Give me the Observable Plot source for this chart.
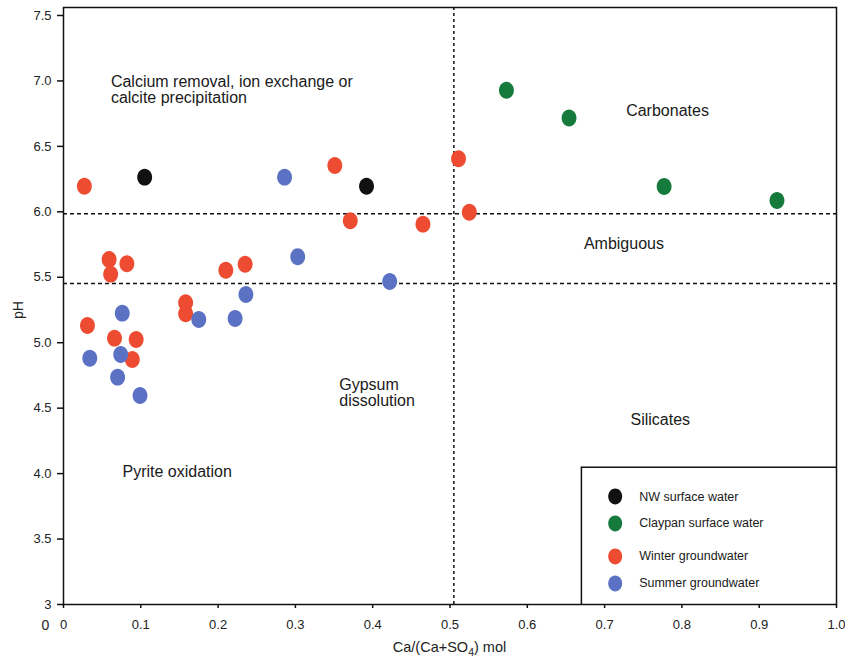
<!DOCTYPE html>
<html><head><meta charset="utf-8">
<script src="https://cdn.jsdelivr.net/npm/d3@7"></script>
<script src="https://cdn.jsdelivr.net/npm/@observablehq/plot@0.6"></script>
<style>body{margin:0;background:#fff}</style>
</head><body><div id="chart"></div>
<script>
// ---- data ----
const seriesNames = ["NW surface water", "Claypan surface water", "Winter groundwater", "Summer groundwater"];
const seriesColors = ["#111111", "#177a3d", "#ee4c32", "#5b72c4"];

const nwX = [0.105, 0.392];
const nwY = [6.265, 6.196];
const claypanX = [0.573, 0.654, 0.777, 0.923];
const claypanY = [6.929, 6.716, 6.194, 6.087];
const winterX = [0.027, 0.351, 0.511, 0.371, 0.465, 0.525, 0.059, 0.061, 0.082, 0.210, 0.235, 0.158, 0.158, 0.031, 0.066, 0.094, 0.089];
const winterY = [6.196, 6.354, 6.405, 5.932, 5.906, 5.997, 5.636, 5.524, 5.603, 5.554, 5.600, 5.305, 5.221, 5.132, 5.035, 5.025, 4.872];
const summerX = [0.286, 0.303, 0.422, 0.236, 0.076, 0.175, 0.222, 0.034, 0.074, 0.070, 0.099];
const summerY = [6.265, 5.657, 5.468, 5.369, 5.226, 5.178, 5.185, 4.882, 4.910, 4.737, 4.597];

const xTicks = [0, 0.1, 0.2, 0.3, 0.4, 0.5, 0.6, 0.7, 0.8, 0.9, 1.0];
const xTickLabels = ["0", "0.1", "0.2", "0.3", "0.4", "0.5", "0.6", "0.7", "0.8", "0.9", "1.0"];
const yTicks = [3, 3.5, 4, 4.5, 5, 5.5, 6, 6.5, 7, 7.5];
const yTickLabels = ["3", "3.5", "4.0", "4.5", "5.0", "5.5", "6.0", "6.5", "7.0", "7.5"];

// threshold lines
const pHThresholds = [5.985, 5.453];
const ratioThreshold = [0.505];

// region labels (anchored in data units)
const regionText = ["Calcium removal, ion exchange or\ncalcite precipitation", "Carbonates", "Ambiguous", "Silicates", "Gypsum\ndissolution", "Pyrite oxidation"];
const regionX = [0.0613, 0.7814, 0.725, 0.772, 0.3567, 0.0763];
const regionY = [6.933, 6.769, 5.756, 4.414, 4.62, 4.011];
const regionAnchor = ["start", "middle", "middle", "middle", "start", "start"];

// legend box (data units)
const legendLeft = 0.670, legendTop = 4.049;
const legendDotX = 0.7137, legendTextX = 0.7447;
const legendY = [3.825, 3.619, 3.367, 3.161];

// ---- build tables ----
const groups = [[nwX, nwY], [claypanX, claypanY], [winterX, winterY], [summerX, summerY]];
const points = [];
groups.forEach(([xs, ys], g) => xs.forEach((x, i) => points.push({series: seriesNames[g], x, y: ys[i]})));
const regions = regionText.map((t, i) => ({t, x: regionX[i], y: regionY[i], a: regionAnchor[i]}));
const legendRows = seriesNames.map((s, i) => ({s, y: legendY[i]}));

// elliptical marker (slightly taller than wide)
const ellipse = {
  draw(ctx, size) {
    const r = Math.sqrt(size / Math.PI), rx = r * 0.93, ry = r * 1.06, k = 0.5523;
    ctx.moveTo(rx, 0);
    ctx.bezierCurveTo(rx, ry * k, rx * k, ry, 0, ry);
    ctx.bezierCurveTo(-rx * k, ry, -rx, ry * k, -rx, 0);
    ctx.bezierCurveTo(-rx, -ry * k, -rx * k, -ry, 0, -ry);
    ctx.bezierCurveTo(rx * k, -ry, rx, -ry * k, rx, 0);
    ctx.closePath();
  }
};

const font = "'Liberation Sans', Arial, Helvetica, sans-serif";
const regionMarks = ["start", "middle"].map(a =>
  Plot.text(regions.filter(d => d.a === a), {x: "x", y: "y", text: "t", textAnchor: a, fontSize: 16, lineHeight: 1.02, fill: "#1a1a1a"}));

const plot = Plot.plot({
  width: 845, height: 657,
  marginLeft: 63, marginRight: 9, marginTop: 7, marginBottom: 53,
  x: {domain: [0, 1]},
  y: {domain: [3, 7.561]},
  color: {domain: seriesNames, range: seriesColors},
  style: {fontFamily: font, fontSize: "13px", color: "#222", background: "#fff"},
  marks: [
    Plot.ruleY(pHThresholds, {stroke: "#111", strokeWidth: 1.5, strokeDasharray: "4,3"}),
    Plot.ruleX(ratioThreshold, {stroke: "#111", strokeWidth: 1.5, strokeDasharray: "3,3"}),
    Plot.axisY(yTicks, {tickSize: 6, tickPadding: 6, tickFormat: d => yTickLabels[yTicks.indexOf(d)], label: null, fontSize: 13, fill: "#222", stroke: "#111", strokeWidth: 1.5}),
    Plot.axisX(xTicks, {tickSize: 4, tickPadding: 11, tickFormat: d => xTickLabels[xTicks.indexOf(d)], label: null, fontSize: 13, fill: "#222", stroke: "#111", strokeWidth: 1.5}),
    Plot.text(["0"], {x: 0, y: 3, dx: -18, dy: 21, fontSize: 14, fill: "#222"}),
    Plot.text(["pH"], {frameAnchor: "left", dx: -45, dy: 13, rotate: -90, fontSize: 14, fill: "#222"}),
    ...regionMarks,
    Plot.dot(points.filter(d => d.series === seriesNames[2]), {x: "x", y: "y", fill: "series", r: 8, symbol: ellipse}),
    Plot.dot(points.filter(d => d.series !== seriesNames[2]), {x: "x", y: "y", fill: "series", r: 8, symbol: ellipse}),
    // legend box
    Plot.ruleX([legendLeft], {y1: 3, y2: legendTop, stroke: "#111", strokeWidth: 1.5}),
    Plot.ruleY([legendTop], {x1: legendLeft, x2: 1, stroke: "#111", strokeWidth: 1.5}),
    Plot.dot(legendRows, {x: legendDotX, y: "y", fill: "s", r: 7.5, symbol: ellipse}),
    Plot.text(legendRows, {x: legendTextX, y: "y", text: "s", textAnchor: "start", fontSize: 12.5, fill: "#1a1a1a"}),
    Plot.frame({stroke: "#111", strokeWidth: 1.5})
  ]
});

// x-axis title with subscript
const xs = plot.scale("x");
const lab = d3.select(plot).append("text")
  .attr("x", xs.apply(0.5)).attr("y", 652)
  .attr("text-anchor", "middle")
  .attr("font-family", font).attr("font-size", 14.5).attr("fill", "#222");
lab.append("tspan").text("Ca/(Ca+SO");
lab.append("tspan").attr("font-size", 10.5).attr("dy", 4).text("4");
lab.append("tspan").attr("dy", -4).text(") mol");

document.getElementById("chart").appendChild(plot);
</script>
</body></html>
